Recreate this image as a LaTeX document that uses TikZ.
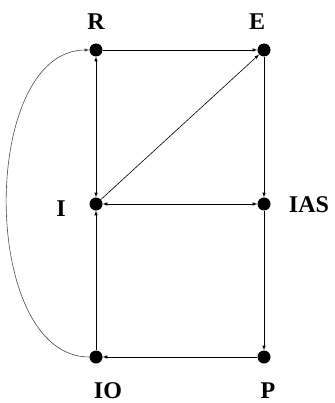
\documentclass[tikz,border=0pt]{standalone}
\usepackage{fontspec}
\setmainfont{Liberation Serif}
\usetikzlibrary{arrows}

\begin{document}
\begin{tikzpicture}[x=1pt, y=-1pt,
  stvert/.style={circle, fill=black, inner sep=0pt, minimum size=13pt},
  stedge/.style={-latex, line width=0.6pt},
  bothedge/.style={latex-latex, line width=0.6pt},
  lbl/.style={font=\fontsize{24}{28}\selectfont\bfseries}]

\useasboundingbox (0,0) rectangle (334,403);

  \node[stvert] (R)   at (96,50)   {};  \node[lbl] at (96,22)   {R};
  \node[stvert] (E)   at (264,50)  {};  \node[lbl] at (257,22)  {E};
  \node[stvert] (I)   at (96,204)  {};  \node[lbl] at (61,209)  {I};
  \node[stvert] (IAS) at (264,204) {};  \node[lbl] at (309,205) {IAS};
  \node[stvert] (IO)  at (96,357)  {};  \node[lbl] at (108,391) {IO};
  \node[stvert] (P)   at (264,357) {};  \node[lbl] at (268,391) {P};

  \foreach \i/\j in {R/E,I/E,E/IAS,IAS/P,P/IO,IO/I} {\draw[stedge] (\i) -- (\j);}
  \foreach \i/\j in {I/R,I/IAS} {\draw[bothedge] (\i) -- (\j);}

  \draw[stedge, black!70] (IO) to[out=180, in=180, looseness=0.92] (R);

\end{tikzpicture}
\end{document}
